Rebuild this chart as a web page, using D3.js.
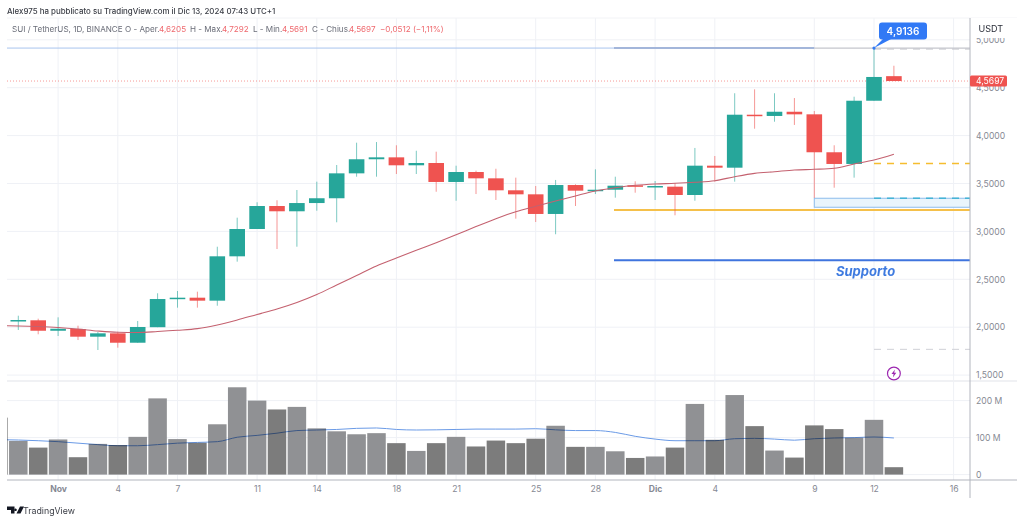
<!DOCTYPE html>
<html>
<head>
<meta charset="utf-8">
<script src="https://cdn.jsdelivr.net/npm/d3@7"></script>
<style>
html, body { margin: 0; padding: 0; background: #fff; overflow: hidden; }
svg { display: block; font-family: Inter, "Liberation Sans", sans-serif; }
.axis path, .axis line { display: none; }
.axis text { fill: #868993; font-size: 8.6px; font-family: Inter, sans-serif; }
.vbar { mix-blend-mode: multiply; }
</style>
</head>
<body>
<div id="graphic"></div>
<script>
// DATA, first candle is 30 Oct 2024
var opens = [2.062,2.072,1.963,1.981,1.901,1.936,1.838,2.000,2.294,2.308,2.277,2.740,3.025,3.265,3.210,3.296,3.346,3.606,3.753,3.773,3.690,3.714,3.516,3.620,3.554,3.429,3.387,3.182,3.484,3.425,3.435,3.481,3.467,3.467,3.380,3.686,3.665,4.218,4.205,4.249,4.222,3.826,3.704,4.364,4.6205];
var highs = [2.120,2.089,2.103,2.016,1.953,1.953,2.065,2.354,2.378,2.371,2.840,3.143,3.304,3.325,3.432,3.519,3.693,3.926,3.933,3.899,3.842,3.832,3.686,3.634,3.654,3.561,3.474,3.537,3.492,3.648,3.571,3.523,3.526,3.505,3.871,3.787,4.442,4.483,4.442,4.392,4.257,3.899,4.406,4.9136,4.7292];
var lows = [1.971,1.926,1.908,1.866,1.762,1.786,1.838,2.000,2.204,2.204,2.224,2.684,3.025,2.816,2.840,3.216,3.095,3.571,3.571,3.599,3.599,3.414,3.320,3.390,3.328,3.133,3.098,2.970,3.265,3.390,3.352,3.404,3.328,3.168,3.320,3.519,3.519,4.072,4.145,4.111,3.349,3.456,3.561,4.364,4.5691];
var closes = [2.075,1.963,1.984,1.901,1.936,1.838,2.002,2.294,2.308,2.277,2.740,3.025,3.265,3.210,3.296,3.346,3.606,3.753,3.773,3.690,3.714,3.516,3.620,3.554,3.429,3.387,3.182,3.484,3.425,3.435,3.477,3.467,3.474,3.380,3.686,3.665,4.218,4.205,4.249,4.222,3.826,3.704,4.364,4.612,4.5697];
var priceMA = [2.013,2.007,1.997,1.981,1.960,1.947,1.945,1.955,1.968,1.985,2.023,2.075,2.133,2.190,2.258,2.341,2.441,2.540,2.639,2.722,2.803,2.882,2.965,3.050,3.132,3.205,3.262,3.317,3.370,3.422,3.456,3.481,3.495,3.502,3.513,3.529,3.571,3.606,3.623,3.641,3.648,3.659,3.704,3.745,3.805];
var volumes = [91,73,95,47,83,80,102,206,96,86,136,236,200,176,183,125,117,109,112,85,64,85,102,76,92,85,97,132,75,75,63,45,49,73,191,94,215,131,65,46,133,123,100,148,20];
var volumeMA = [93.5,91.6,89,85,81,78,78,81,85,87,89,101,106,112,119,120.5,122,125,126,122,120.5,121,122,123,123,123,124,121,119,119,114,103.5,96,91.6,91.6,91.6,97,98,96,93,97,99,100,101.6,99];
// 29 Oct, cut off by the left edge
var prevVolume = 154;
var prevPriceMA = 2.015;
var prevVolumeMA = 94.5;

var priceTicks = [1.5,2,2.5,3,3.5,4,4.5,5];
var volumeTicks = [0,100,200];
var dayIndex = [2,5,8,12,15,19,22,26,29,32,35,40,43,47];
var dayLabels = ["Nov","4","7","11","14","18","21","25","28","Dic","4","9","12","16"];

var lastClose = 4.5697;
var peak = 4.9136;
var supportLevel = 2.698;
var yellowLevel = 3.223;
var yellowDashed = 3.709;
var cyanDashed = 3.346;
var boxLow = 3.252;
var grayDashed = 1.769;

var width = 1024, height = 522;
var left = 7, right = 970;

var svg = d3.select("#graphic").append("svg")
    .attr("width", width)
    .attr("height", height);

var x = d3.scaleLinear().domain([0, 44]).range([18.3, 893.9]);
var y = d3.scaleLinear().domain([4, 3.5]).range([135.6, 183.5]);
var yVol = d3.scaleLinear().domain([0, 100]).range([474.6, 437.6]);

var comma = function (v) { return v.toFixed(4).replace(".", ","); };

svg.append("clipPath").attr("id", "plot").append("rect")
    .attr("x", left).attr("y", 18).attr("width", right - left).attr("height", 462);

// GRID
var grid = svg.append("g").attr("stroke", "#eff1f6").attr("stroke-width", 1);
dayIndex.forEach(function (d) {
    grid.append("line").attr("x1", x(d)).attr("x2", x(d)).attr("y1", 18).attr("y2", 480);
});
priceTicks.forEach(function (d) {
    grid.append("line").attr("x1", left).attr("x2", right).attr("y1", y(d)).attr("y2", y(d));
});
volumeTicks.forEach(function (d) {
    grid.append("line").attr("x1", left).attr("x2", right).attr("y1", yVol(d)).attr("y2", yVol(d));
});
// pane separator and frame
svg.append("rect").attr("x", left).attr("y", 380).attr("width", 1010).attr("height", 2).attr("fill", "#f0f1f4");
svg.append("line").attr("x1", left).attr("x2", 1017).attr("y1", 18).attr("y2", 18).attr("stroke", "#f2f3f6");

// VOLUME
var plot = svg.append("g").attr("clip-path", "url(#plot)");
var volLine = d3.line().x(function (d, i) { return x(i - 1); }).y(function (d) { return yVol(d); }).curve(d3.curveMonotoneX);
plot.append("path").datum([prevVolumeMA].concat(volumeMA))
    .attr("d", volLine).attr("fill", "none").attr("stroke", "#6a9ae6").attr("stroke-width", 1);

var barW = x(1) - x(0) - 1.4;
plot.selectAll(".vbar").data([prevVolume].concat(volumes)).enter().append("rect")
    .attr("class", "vbar")
    .attr("x", function (d, i) { return x(i - 1) - barW / 2; })
    .attr("y", function (d) { return yVol(d); })
    .attr("width", barW)
    .attr("height", function (d) { return yVol(0) - yVol(d); })
    .attr("fill", function (d, i) {
        if (i == 0) return "#7c7c7c";
        return closes[i - 1] < opens[i - 1] ? "#7c7c7c" : "#909194";
    });

// DRAWINGS UNDER THE CANDLES
var xLevelStart = 614, xBoxStart = x(40), xDashStart = x(43);
plot.append("line").attr("x1", left).attr("x2", right).attr("y1", y(lastClose)).attr("y2", y(lastClose))
    .attr("stroke", "#ef5350").attr("stroke-width", 1).attr("stroke-dasharray", "1 2").attr("opacity", 0.6);
plot.append("line").attr("x1", left).attr("x2", xBoxStart).attr("y1", y(peak)).attr("y2", y(peak))
    .attr("stroke", "#a9c4ee").attr("stroke-width", 1);
plot.append("line").attr("x1", xLevelStart).attr("x2", xBoxStart).attr("y1", y(peak)).attr("y2", y(peak))
    .attr("stroke", "#a3b6da").attr("stroke-width", 2);
plot.append("line").attr("x1", xBoxStart).attr("x2", right).attr("y1", y(peak)).attr("y2", y(peak))
    .attr("stroke", "#c4c6cc").attr("stroke-width", 1.4);
plot.append("line").attr("x1", xDashStart).attr("x2", right).attr("y1", y(peak) + 1).attr("y2", y(peak) + 1)
    .attr("stroke", "#c4c6cc").attr("stroke-dasharray", "7 6");

plot.append("rect").attr("x", xBoxStart).attr("y", y(cyanDashed)).attr("width", right - xBoxStart)
    .attr("height", y(boxLow) - y(cyanDashed))
    .attr("fill", "#e9f5fc").attr("stroke", "#8dbdec").attr("stroke-width", 1);
plot.append("line").attr("x1", xDashStart).attr("x2", right).attr("y1", y(cyanDashed)).attr("y2", y(cyanDashed))
    .attr("stroke", "#45b4d6").attr("stroke-width", 1.5).attr("stroke-dasharray", "7 6");
plot.append("line").attr("x1", xDashStart).attr("x2", right).attr("y1", y(yellowDashed)).attr("y2", y(yellowDashed))
    .attr("stroke", "#f5bd2f").attr("stroke-width", 1.5).attr("stroke-dasharray", "7 6");
plot.append("line").attr("x1", xDashStart).attr("x2", right).attr("y1", y(grayDashed)).attr("y2", y(grayDashed))
    .attr("stroke", "#cfd1d6").attr("stroke-dasharray", "7 6");
plot.append("line").attr("x1", xLevelStart).attr("x2", right).attr("y1", y(yellowLevel)).attr("y2", y(yellowLevel))
    .attr("stroke", "#f5c04a").attr("stroke-width", 2);
plot.append("line").attr("x1", xLevelStart).attr("x2", right).attr("y1", y(supportLevel)).attr("y2", y(supportLevel))
    .attr("stroke", "#3f74de").attr("stroke-width", 2);

// CANDLES
var bodyW = 15.6;
var green = "#26a69a", red = "#ef5350";
var color = function (i) { return closes[i] < opens[i] ? red : green; };

plot.selectAll(".wick").data(highs).enter().append("line")
    .attr("class", "wick")
    .attr("x1", function (d, i) { return x(i); })
    .attr("x2", function (d, i) { return x(i); })
    .attr("y1", function (d) { return y(d); })
    .attr("y2", function (d, i) { return y(lows[i]); })
    .attr("stroke", function (d, i) { return color(i); })
    .attr("stroke-width", 1)
    .attr("opacity", 0.6);

plot.selectAll(".body").data(opens).enter().append("rect")
    .attr("class", "body")
    .attr("x", function (d, i) { return x(i) - bodyW / 2; })
    .attr("y", function (d, i) { return y(Math.max(d, closes[i])); })
    .attr("width", bodyW)
    .attr("height", function (d, i) { return Math.max(1.5, Math.abs(y(d) - y(closes[i]))); })
    .attr("fill", function (d, i) { return color(i); });

var maLine = d3.line().x(function (d, i) { return x(i - 1); }).y(function (d) { return y(d); }).curve(d3.curveMonotoneX);
plot.append("path").datum([prevPriceMA].concat(priceMA))
    .attr("d", maLine).attr("fill", "none").attr("stroke", "#c4616f").attr("stroke-width", 1.1);

// AXES
var priceAxis = d3.axisRight(y).tickValues(priceTicks).tickFormat(comma).tickSize(0).tickPadding(0);
svg.append("g").attr("class", "axis")
    .attr("transform", "translate(976,0)")
    .call(priceAxis);

var volAxis = d3.axisRight(yVol).tickValues(volumeTicks)
    .tickFormat(function (d) { return d == 0 ? "0" : d + " M"; }).tickSize(0).tickPadding(0);
svg.append("g").attr("class", "axis")
    .attr("transform", "translate(976,0)")
    .call(volAxis);

var dayAxis = d3.axisBottom(x).tickValues(dayIndex)
    .tickFormat(function (d, i) { return dayLabels[i]; }).tickSize(0).tickPadding(0);
svg.append("g").attr("class", "axis")
    .attr("transform", "translate(0,486)")
    .call(dayAxis)
    .selectAll("text")
    .attr("dy", "0.7em")
    .style("font-weight", function (d, i) { return isNaN(+dayLabels[i]) ? 700 : 400; });

svg.append("line").attr("x1", right).attr("x2", right).attr("y1", 18).attr("y2", 498).attr("stroke", "#b2b5be");
svg.append("line").attr("x1", left).attr("x2", 1017).attr("y1", 480).attr("y2", 480).attr("stroke", "#b2b5be");

// USDT box hides the top of the 5,0000 label
svg.append("rect").attr("x", 971).attr("y", 18).attr("width", 46).attr("height", 20).attr("fill", "#fff");
svg.append("text").attr("x", 978.5).attr("y", 32).attr("fill", "#2a2e39").attr("font-size", 9).text("USDT");

// last price tag
svg.append("rect").attr("x", 970).attr("y", y(lastClose) - 5.5).attr("width", 37).attr("height", 11).attr("rx", 1.5).attr("fill", red);
svg.append("text").attr("x", 976).attr("y", y(lastClose) + 3).attr("fill", "#fff").attr("font-size", 8.6).text(comma(lastClose));

// callout of the high
svg.append("path")
    .attr("d", "M" + x(43) + "," + y(peak) + "L884,38L893,38Z")
    .attr("fill", "#3179f5");
svg.append("rect").attr("x", 879).attr("y", 22.5).attr("width", 48).attr("height", 17).attr("rx", 3).attr("fill", "#3179f5");
svg.append("circle").attr("cx", x(43)).attr("cy", y(peak)).attr("r", 1.6).attr("fill", "#3179f5");
svg.append("text").attr("x", 903).attr("y", 34.5).attr("text-anchor", "middle")
    .attr("fill", "#fff").attr("font-size", 10).attr("font-weight", 600).text(comma(peak));

svg.append("text").attr("x", 836).attr("y", 276)
    .attr("fill", "#3f7be0").attr("font-size", 13).attr("font-weight", 700).attr("font-style", "italic").text("Supporto");

// lightning icon
var bolt = svg.append("g").attr("transform", "translate(" + x(44) + ",373.5)");
bolt.append("circle").attr("r", 6.4).attr("fill", "#fff").attr("stroke", "#9c27b0").attr("stroke-width", 1.2);
bolt.append("path").attr("d", "M1,-4L-2.4,0.6L-0.3,0.6L-1,4L2.4,-0.8L0.3,-0.8Z").attr("fill", "#9c27b0");

// HEADER
svg.append("text").attr("x", 7).attr("y", 13.5).attr("fill", "#3a3d45").attr("font-size", 7.9).attr("font-weight", 500)
    .text("Alex975 ha pubblicato su TradingView.com il Dic 13, 2024 07:43 UTC+1");

var gray = "#6a6d78", pink = "#ef6a6f";
var legendParts = [
    [12, "SUI / TetherUS, 1D, BINANCE", gray],
    [125, "O - Aper.", gray],
    [159, "4,6205", pink],
    [190, "H - Max.", gray],
    [222, "4,7292", pink],
    [253, "L - Min.", gray],
    [282, "4,5691", pink],
    [312, "C - Chius.", gray],
    [349, "4,5697", pink],
    [380, "\u22120,0512 (\u22121,11%)", pink]
];
svg.selectAll(".legend").data(legendParts).enter().append("text")
    .attr("class", "legend")
    .attr("x", function (d) { return d[0]; })
    .attr("y", 31.5)
    .attr("font-size", 8.1)
    .attr("fill", function (d) { return d[2]; })
    .text(function (d) { return d[1]; });

// FOOTER
svg.append("path")
    .attr("d", "M7,506.5H14.5V513.5H11V510H7ZM20,506.5H24L20.5,513.5H16.5ZM15.5,508.5a1.3,1.3 0 1,0 0.01,0Z")
    .attr("fill", "#131722");
svg.append("text").attr("x", 23).attr("y", 514).attr("fill", "#3a3d45").attr("font-size", 8.8).text("TradingView");
</script>
</body>
</html>
